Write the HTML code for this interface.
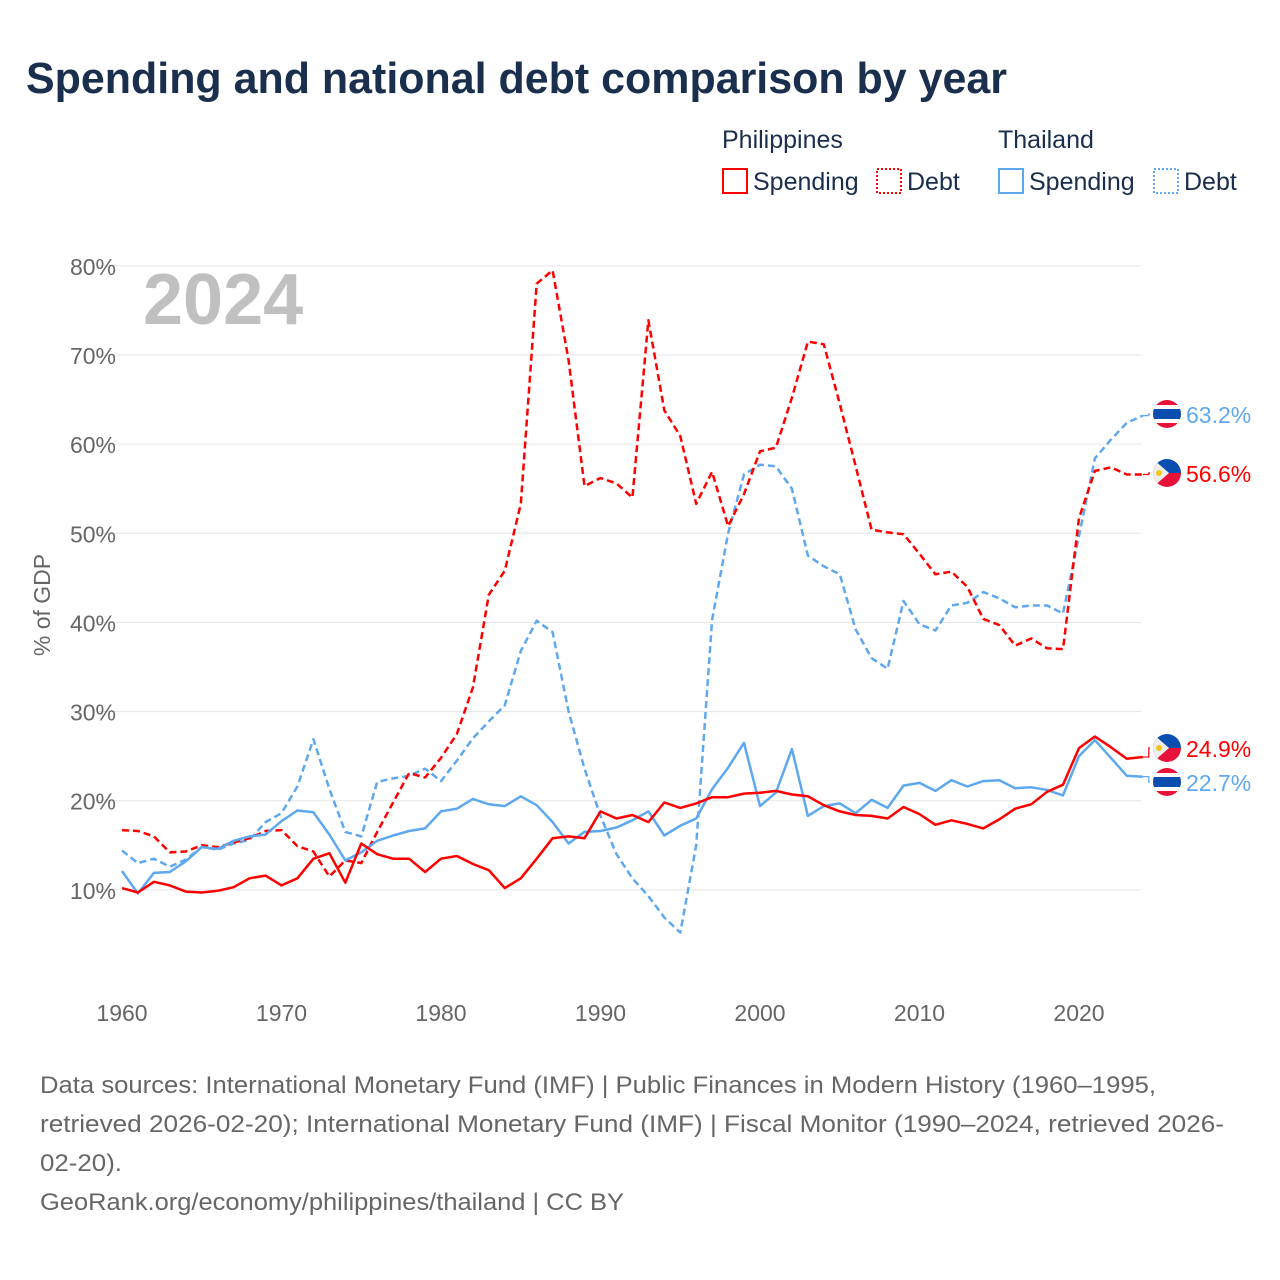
<!DOCTYPE html>
<html><head><meta charset="utf-8"><style>
body{margin:0;background:#fff;font-family:"Liberation Sans",sans-serif;}
#wrap{position:relative;width:1280px;height:1280px;overflow:hidden;}
</style></head><body>
<div id="wrap">
<svg id="chart" width="1280" height="1280" xmlns="http://www.w3.org/2000/svg">
<text x="26" y="93" font-size="44" font-weight="bold" fill="#1a2e4d" textLength="981" lengthAdjust="spacingAndGlyphs">Spending and national debt comparison by year</text>
<g font-size="25" fill="#1a2e4d">
<text x="722" y="148">Philippines</text>
<text x="998" y="148">Thailand</text>
<rect x="723" y="169" width="24" height="24" fill="none" stroke="#f00" stroke-width="2"/>
<text x="753" y="190">Spending</text>
<rect x="877" y="169" width="24" height="24" fill="none" stroke="#f00" stroke-width="2" stroke-dasharray="2,2"/>
<text x="907" y="190">Debt</text>
<rect x="999" y="169" width="24" height="24" fill="none" stroke="#5ea8ee" stroke-width="2"/>
<text x="1029" y="190">Spending</text>
<rect x="1154" y="169" width="24" height="24" fill="none" stroke="#5ea8ee" stroke-width="2" stroke-dasharray="2,2"/>
<text x="1184" y="190">Debt</text>
</g>
<text x="143" y="324" font-size="72" font-weight="bold" fill="#c0c0c0">2024</text>
<text transform="translate(50,605) rotate(-90)" text-anchor="middle" font-size="23" fill="#666">% of GDP</text>
<g id="grid"></g><g id="series"></g><g id="ends"></g>
<g font-size="24" fill="#666">
<text x="40" y="1093" textLength="1116" lengthAdjust="spacingAndGlyphs">Data sources: International Monetary Fund (IMF) | Public Finances in Modern History (1960–1995,</text>
<text x="40" y="1132" textLength="1184" lengthAdjust="spacingAndGlyphs">retrieved 2026-02-20); International Monetary Fund (IMF) | Fiscal Monitor (1990–2024, retrieved 2026-</text>
<text x="40" y="1171" textLength="82" lengthAdjust="spacingAndGlyphs">02-20).</text>
<text x="40" y="1210" textLength="584" lengthAdjust="spacingAndGlyphs">GeoRank.org/economy/philippines/thailand | CC BY</text>
</g>
</svg>
</div>
<script>
const years=[];for(let y=1960;y<=2024;y++)years.push(y);
const yTicks=[10,20,30,40,50,60,70,80];
const xTicks=[1960,1970,1980,1990,2000,2010,2020];
const phSpending=[10.2,9.7,10.9,10.5,9.8,9.7,9.9,10.3,11.3,11.6,10.5,11.3,13.5,14.1,10.8,15.2,14.0,13.5,13.5,12.0,13.5,13.8,12.9,12.2,10.2,11.3,13.5,15.8,16.0,15.8,18.8,18.0,18.4,17.6,19.8,19.2,19.7,20.4,20.4,20.8,20.9,21.1,20.7,20.5,19.5,18.8,18.4,18.3,18.0,19.3,18.5,17.3,17.8,17.4,16.9,17.9,19.1,19.6,21.0,21.8,25.9,27.2,26.0,24.7,24.9];
const phDebt=[16.7,16.6,16.0,14.2,14.3,15.0,14.8,15.3,15.8,16.6,16.7,14.9,14.3,11.5,13.3,13.0,16.5,19.8,23.1,22.6,24.8,27.5,32.7,43.1,45.8,53.3,78.0,79.5,69.4,55.3,56.2,55.6,54.0,73.9,63.8,60.9,53.3,56.9,50.8,54.4,59.2,59.6,65.2,71.5,71.2,64.5,57.5,50.4,50.1,49.9,47.7,45.4,45.7,44.0,40.4,39.7,37.4,38.2,37.1,37.0,51.7,57.0,57.4,56.6,56.6];
const thSpending=[12.1,9.6,11.9,12.0,13.2,14.8,14.6,15.5,16.0,16.2,17.7,18.9,18.7,16.2,13.3,14.2,15.5,16.1,16.6,16.9,18.8,19.1,20.2,19.6,19.4,20.5,19.5,17.6,15.2,16.5,16.6,17.0,17.8,18.8,16.1,17.2,18.0,21.3,23.7,26.5,19.4,20.9,25.8,18.3,19.4,19.7,18.6,20.1,19.2,21.7,22.0,21.1,22.3,21.6,22.2,22.3,21.4,21.5,21.2,20.6,25.0,26.8,24.8,22.8,22.7];
const thDebt=[14.4,13.0,13.5,12.6,13.4,14.8,14.5,15.2,15.6,17.6,18.6,21.6,26.9,21.3,16.5,16.0,22.1,22.5,22.8,23.6,22.2,24.5,27.0,28.9,30.7,36.8,40.2,38.9,30.0,23.6,18.3,14.0,11.3,9.3,6.9,5.2,15.0,40.3,50.0,56.6,57.7,57.5,55.0,47.5,46.3,45.4,39.2,36.0,34.8,42.4,39.8,39.1,41.9,42.2,43.4,42.7,41.7,41.9,41.9,41.0,49.7,58.4,60.5,62.4,63.2];
const NS="http://www.w3.org/2000/svg";
const X=y=>122+(y-1960)*15.95;
const Y=v=>979-v*8.914;
function mk(tag,attrs,parent){const e=document.createElementNS(NS,tag);for(const k in attrs)e.setAttribute(k,attrs[k]);parent.appendChild(e);return e;}
const grid=document.getElementById('grid');
yTicks.forEach(t=>{
 const l=mk('line',{x1:96,x2:1141,y1:Y(t),y2:Y(t),stroke:'#e6e6e6','stroke-width':1},grid);
 
 
 const tx=mk('text',{x:116,y:Y(t)+9,'text-anchor':'end','font-size':23,fill:'#666'},grid);
 tx.textContent=t+'%';
 
 
});
xTicks.forEach(t=>{
 const tx=mk('text',{x:X(t),y:1021,'text-anchor':'middle','font-size':23,fill:'#666'},grid);
 tx.textContent=t;
 
 
});
const ser=document.getElementById('series');
function line(data,color,dash,name){
 const d=data.map((v,i)=>(i?'L':'M')+X(years[i]).toFixed(1)+','+Y(v).toFixed(1)).join('');
 const p=mk('path',{d:d,fill:'none',stroke:color,'stroke-width':2.5,'stroke-linejoin':'round'},ser);
 if(dash)p.setAttribute('stroke-dasharray','7,4');
 
 
}
line(thDebt,'#5ea8ee',true,'line-thailand-debt');
line(phDebt,'#f00',true,'line-philippines-debt');
line(thSpending,'#5ea8ee',false,'line-thailand-spending');
line(phSpending,'#f00',false,'line-philippines-spending');
const ends=document.getElementById('ends');
function flag(cx,cy,country,name){
 const g=mk('g',{},ends);
 
 
 const id='c'+Math.round(cx)+Math.round(cy);
 const cp=mk('clipPath',{id:id},g);mk('circle',{cx:cx,cy:cy,r:14},cp);
 const f=mk('g',{'clip-path':'url(#'+id+')'},g);
 if(country==='th'){
  mk('rect',{x:cx-14,y:cy-14,width:28,height:28,fill:'#e8113a'},f);
  mk('rect',{x:cx-14,y:cy-9,width:28,height:18,fill:'#fff'},f);
  mk('rect',{x:cx-14,y:cy-5,width:28,height:10,fill:'#0a4fb0'},f);
 }else{
  mk('rect',{x:cx-14,y:cy-14,width:28,height:14,fill:'#0a4fb0'},f);
  mk('rect',{x:cx-14,y:cy,width:28,height:14,fill:'#e8113a'},f);
  mk('polygon',{points:(cx-14)+','+(cy-14)+' '+(cx+2)+','+cy+' '+(cx-14)+','+(cy+14),fill:'#eee'},f);
  mk('circle',{cx:cx-8,cy:cy,r:3,fill:'#f5c518'},f);
 }
}
function endLabel(val,ly,color,country,name){
 const x0=X(2024),y0=Y(val);
 const p=mk('path',{d:'M'+x0+','+y0+'H'+(x0+6)+'V'+ly+'H1150',fill:'none',stroke:color,'stroke-width':1.2},ends);
 
 
 flag(1167,ly,country,name+'-flag');
 const t=mk('text',{x:1186,y:ly+9,'font-size':23,fill:color},ends);
 t.textContent=val.toFixed(1)+'%';
 
 
}
endLabel(thDebt[thDebt.length-1],414,'#5ea8ee','th','end-thailand-debt');
endLabel(phDebt[phDebt.length-1],473,'#f00','ph','end-philippines-debt');
endLabel(phSpending[phSpending.length-1],748,'#f00','ph','end-philippines-spending');
endLabel(thSpending[thSpending.length-1],782,'#5ea8ee','th','end-thailand-spending');
</script>
</body></html>
